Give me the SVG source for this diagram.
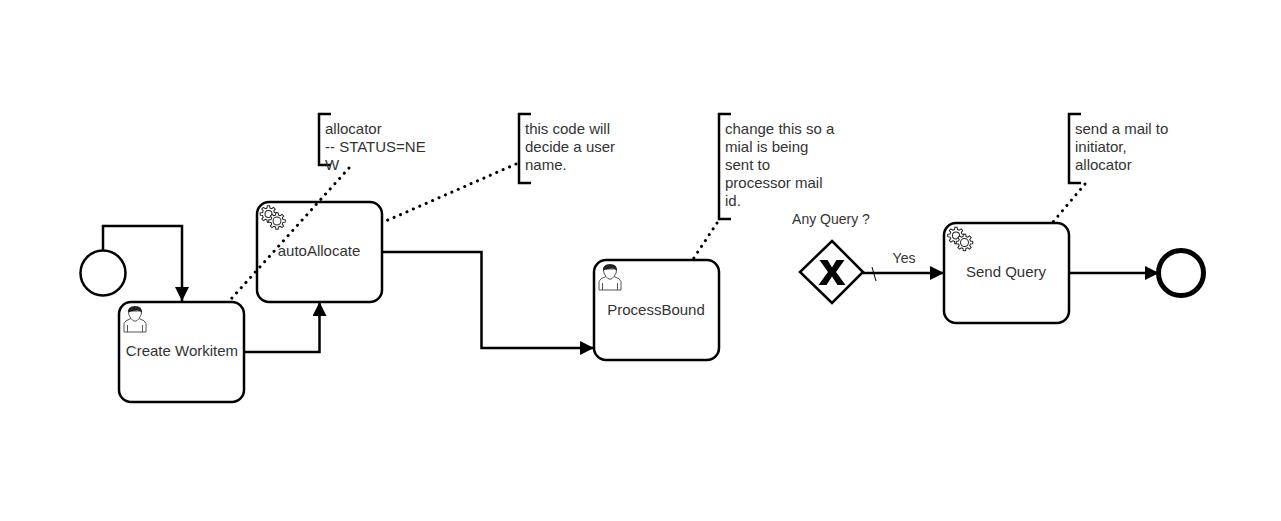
<svg xmlns="http://www.w3.org/2000/svg" xmlns:xlink="http://www.w3.org/1999/xlink" width="1281" height="521" viewBox="0 0 1281 521">
<style>
text{font-family:"Liberation Sans",Arial,sans-serif;font-size:15px;fill:#333}
.c{text-anchor:middle}
.sm{font-size:14px}
.task{fill:#fff;stroke:#000;stroke-width:2.5}
.flow{fill:none;stroke:#000;stroke-width:2.5;stroke-linejoin:miter}
.assoc{fill:none;stroke:#000;stroke-width:3;stroke-dasharray:.1 6.9;stroke-linecap:round}
.br{fill:none;stroke:#000;stroke-width:2.5}
.ic{fill:#fff;stroke:#555;stroke-width:1}
.gr{fill:none;stroke:#222;stroke-width:1.150}
</style>
<defs>
<marker id="ah" markerUnits="userSpaceOnUse" markerWidth="15" markerHeight="14" refX="14" refY="7" orient="auto"><path d="M0 0L14 7L0 14Z" fill="#000"/></marker>
<symbol id="user" overflow="visible">
<path class="ic" d="M0.500 26V17.500Q1 14.500 7.500 12.500Q4.500 9 5 5H18Q18.500 9 15.500 12.500Q22 14.500 22.500 17.500V26Z"/>
<path class="ic" d="M4 26V19M19 26V19M7.500 12.500Q11.500 18 15.500 12.500"/>
<path d="M4.500 6.500Q4 0 11.500 0Q19 0 18.500 7Q16 3.800 11.500 4.800Q7 5.500 4.500 6.500Z" fill="#222"/>
</symbol>
<path id="gear" class="gr" d="M9.410-1.320L9.410 1.320L6.790 1.690L6 3.610L7.590 5.720L5.720 7.590L3.610 6L1.690 6.790L1.320 9.410L-1.320 9.410L-1.690 6.790L-3.610 6L-5.720 7.590L-7.590 5.720L-6 3.610L-6.790 1.690L-9.410 1.320L-9.410-1.320L-6.790-1.690L-6-3.610L-7.590-5.720L-5.720-7.590L-3.610-6L-1.690-6.790L-1.320-9.410L1.320-9.410L1.690-6.790L3.610-6L5.720-7.590L7.590-5.720L6-3.610L6.790-1.690Z"/>
<symbol id="gears" overflow="visible">
<g transform="translate(8.500 8.500) scale(.88)"><use xlink:href="#gear" href="#gear"/><circle class="gr" r="4"/></g>
<g transform="translate(17 15.500) scale(.88)"><circle r="9" fill="#fff"/><use xlink:href="#gear" href="#gear"/><circle class="gr" r="4.500"/></g>
</symbol>
</defs>
<g id="start"><circle cx="103" cy="273" r="22.500" fill="#fff" stroke="#000" stroke-width="2.500"/></g>
<g id="task-create">
<rect class="task" x="119" y="302" width="125" height="100" rx="12"/>
<use xlink:href="#user" href="#user" x="123.500" y="306"/>
<text class="c" x="182" y="356">Create Workitem</text>
</g>
<g id="task-auto">
<rect class="task" x="257" y="202" width="125" height="100" rx="12"/>
<use xlink:href="#gears" href="#gears" x="260" y="205.500"/>
<text class="c" x="319" y="256">autoAllocate</text>
</g>
<g id="task-process">
<rect class="task" x="594" y="260" width="125" height="100" rx="12"/>
<use xlink:href="#user" href="#user" x="598.500" y="264"/>
<text class="c" x="656" y="315">ProcessBound</text>
</g>
<g id="gateway">
<path d="M832 241L863 272L832 303L800 272Z" fill="#fff" stroke="#000" stroke-width="2.500"/>
<path d="M819.500 260H827.500L832 267.500L836.500 260H844.500L836 272L845.500 285H837.500L832 276.500L826.500 285H818.500L828 272Z" fill="#000"/>
<text class="sm c" x="831" y="224">Any Query ?</text>
<text class="sm c" x="904" y="263">Yes</text>
</g>
<g id="task-send">
<rect class="task" x="944" y="223" width="125" height="100" rx="12"/>
<use xlink:href="#gears" href="#gears" x="947.500" y="227"/>
<text class="c" x="1006" y="277">Send Query</text>
</g>
<g id="end"><circle cx="1181" cy="273" r="22.500" fill="#fff" stroke="#000" stroke-width="5"/></g>
<g id="note-allocator">
<path class="br" d="M331 114H319V165H331"/>
<text x="325" y="134">allocator</text>
<text x="325" y="152">-- STATUS=NE</text>
<text x="325" y="170">W</text>
</g>
<g id="note-code">
<path class="br" d="M531 114H519V183H531"/>
<text x="525" y="134">this code will</text>
<text x="525" y="152">decide a user</text>
<text x="525" y="170">name.</text>
</g>
<g id="note-change">
<path class="br" d="M731 114H719V219H731"/>
<text x="725" y="134">change this so a</text>
<text x="725" y="152">mial is being</text>
<text x="725" y="170">sent to</text>
<text x="725" y="188">processor mail</text>
<text x="725" y="206">id.</text>
</g>
<g id="note-send">
<path class="br" d="M1081 114H1069V183H1081"/>
<text x="1075" y="134">send a mail to</text>
<text x="1075" y="152">initiator,</text>
<text x="1075" y="170">allocator</text>
</g>
<g id="connectors">
<path class="flow" d="M103 250V226H182V301" marker-end="url(#ah)"/>
<path class="flow" d="M245 352H319.500V302" marker-end="url(#ah)"/>
<path class="flow" d="M383 252H481.500V348H594" marker-end="url(#ah)"/>
<path class="flow" d="M863 273H944" marker-end="url(#ah)"/>
<path d="M872 267L876 281" fill="none" stroke="#000" stroke-width="1"/>
<path class="flow" d="M1070 273H1159" marker-end="url(#ah)"/>
<path class="assoc" d="M349 168L231.500 298.500"/>
<path class="assoc" d="M516 164L387 220.500"/>
<path class="assoc" d="M717 223L693.500 258.500"/>
<path class="assoc" d="M1085 184L1053 222"/>
</g>
</svg>
